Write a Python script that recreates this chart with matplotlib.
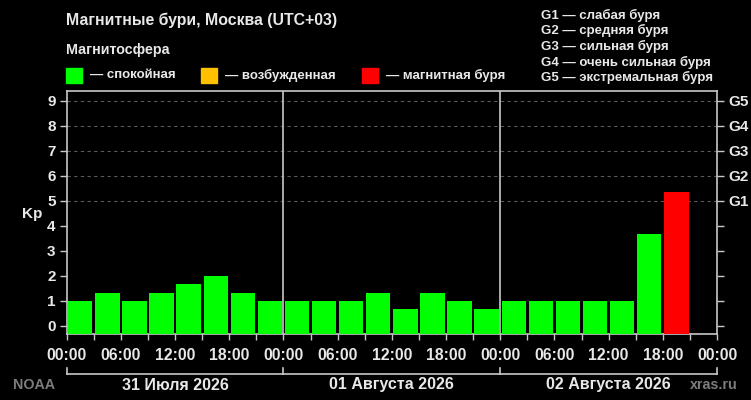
import matplotlib
matplotlib.use("Agg")
from matplotlib import pyplot as plt
from matplotlib.patches import Rectangle
import numpy as np

# Kp values, 3-hour intervals starting at 00:00 on 31 July
kp_values = [1.0, 1.33, 1.0, 1.33, 1.67, 2.0, 1.33, 1.0,
             1.0, 1.0, 1.0, 1.33, 0.67, 1.33, 1.0, 0.67,
             1.0, 1.0, 1.0, 1.0, 1.0, 3.67, 5.33]
day_labels = ["31 Июля 2026", "01 Августа 2026", "02 Августа 2026"]
hour_labels = ["00:00", "06:00", "12:00", "18:00"] * 3 + ["00:00"]
storm_labels = ["G1", "G2", "G3", "G4", "G5"]
storm_text = ["G1 — слабая буря", "G2 — средняя буря", "G3 — сильная буря",
              "G4 — очень сильная буря", "G5 — экстремальная буря"]
legend_names = ["— спокойная", "— возбужденная", "— магнитная буря"]

GREEN = "#00ff00"
ORANGE = "#ffc000"
RED = "#ff0000"
FG = "#e8e8e8"
LINE = "#c8c8c8"
GRAY = "#7c7c7c"

plt.rcParams['font.family'] = ['Liberation Sans', 'DejaVu Sans']
plt.rcParams['font.weight'] = 'bold'

W, H = 751, 400
fig = plt.figure(figsize=(W / 100, H / 100), dpi=100, facecolor="black")

def fx(px):
    return px / W

def fy(py):
    return 1 - py / H

ax_l, ax_r, ax_t, ax_b = 66.7, 717, 91, 334
ax = fig.add_axes([fx(ax_l), fy(ax_b), fx(ax_r - ax_l), (ax_b - ax_t) / H])
ax.set_facecolor("black")
ymin, ymax = -0.33, 9.39
ax.set_xlim(0, 72)
ax.set_ylim(ymin, ymax)

def bar_color(v):
    if v >= 5:
        return RED
    if v >= 4:
        return ORANGE
    return GREEN

x = np.arange(len(kp_values)) * 3 + 1.5
ax.bar(x, np.array(kp_values) - ymin, bottom=ymin, width=2.7,
       color=[bar_color(v) for v in kp_values], edgecolor="none", zorder=3)

# dashed grid only at storm levels
for g in range(5, 10):
    ax.axhline(g, color="#5a5a5a", lw=0.8, ls=(0, (3, 3)), zorder=1)

for d in (24, 48):
    ax.axvline(d, color=LINE, lw=1.2, zorder=4)

for s in ax.spines.values():
    s.set_color(LINE)
    s.set_linewidth(1.2)

ax.set_yticks(range(10))
ax.set_yticklabels([str(i) for i in range(10)], color=FG, fontsize=11, fontweight="bold")
ax.set_xticks(np.arange(0, 73, 6))
ax.set_xticklabels(hour_labels, color=FG, fontsize=11.3, fontweight="bold")
ax.set_xticks(np.arange(3, 72, 6), minor=True)
ax.tick_params(axis="x", which="both", color=LINE, length=4, width=1, pad=6)
ax.tick_params(axis="y", color=LINE, length=5, width=1, pad=3)
ax.set_ylabel("Kp", color=FG, fontsize=11, fontweight="bold", rotation=0,
              va="center", ha="center")
ax.yaxis.set_label_coords(-0.053, 0.494)

ax2 = ax.twinx()
ax2.set_ylim(ymin, ymax)
ax2.set_yticks(range(10))
ax2.set_yticklabels([""] * 5 + storm_labels, color=FG, fontsize=11, fontweight="bold")
ax2.tick_params(axis="y", color=LINE, length=5, width=1, pad=3)
for s in ax2.spines.values():
    s.set_visible(False)

# day bracket under the time axis
tr = ax.get_xaxis_transform()
span = ax_b - ax_t
yb = -(374 - ax_b) / span
yt = -(368 - ax_b) / span
ax.plot([0, 72], [yb, yb], color=LINE, lw=1.2, transform=tr, clip_on=False)
for d in (0, 24, 48, 72):
    ax.plot([d, d], [yb, yt], color=LINE, lw=1.2, transform=tr, clip_on=False)
yl = -(385 - ax_b) / span
for i, lab in enumerate(day_labels):
    ax.text(12 + 24 * i, yl, lab, transform=tr, ha="center", va="center",
            color=FG, fontsize=11.5, fontweight="bold")

fig.text(fx(13), fy(385), "NOAA", color=GRAY, fontsize=10.3, fontweight="bold",
         ha="left", va="center")
fig.text(fx(738), fy(385), "xras.ru", color=GRAY, fontsize=10.3, fontweight="bold",
         ha="right", va="center")

# header
fig.text(fx(66), fy(20), "Магнитные бури, Москва (UTC+03)", color=FG, fontsize=11.4,
         fontweight="bold", ha="left", va="center")
fig.text(fx(66), fy(50), "Магнитосфера", color=FG, fontsize=10.3,
         fontweight="bold", ha="left", va="center")
for px, tx, col, name in zip((66, 201, 362), (90, 225, 386), (GREEN, ORANGE, RED), legend_names):
    fig.patches.append(Rectangle((fx(px), fy(83)), fx(16), 15 / H, color=col,
                                 transform=fig.transFigure, figure=fig))
    fig.text(fx(tx), fy(75), name, color=FG, fontsize=9.5, fontweight="bold",
             ha="left", va="center")
for i, t in enumerate(storm_text):
    fig.text(fx(541), fy(15 + 15.7 * i), t, color=FG, fontsize=9.5, fontweight="bold",
             ha="left", va="center")

fig.savefig("out.png", dpi=100, facecolor="black")
